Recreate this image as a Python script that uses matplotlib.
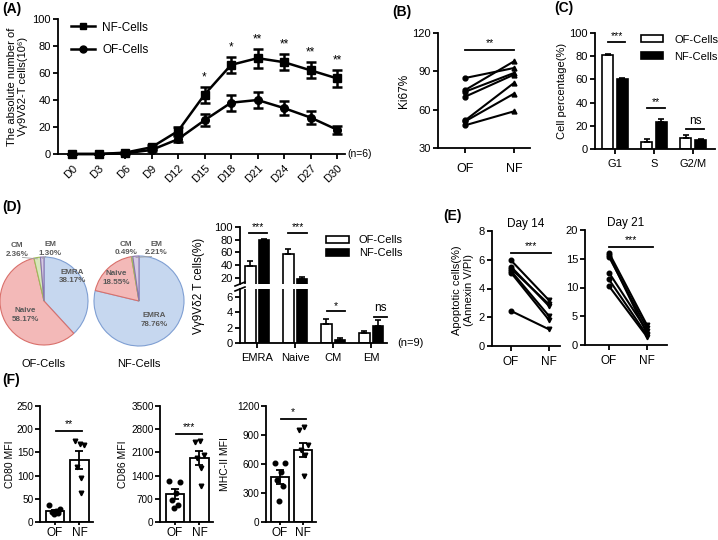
import matplotlib
matplotlib.use('Agg')
import matplotlib.pyplot as plt
import numpy as np
from matplotlib.lines import Line2D
from matplotlib.patches import Patch

plt.rcParams['font.family'] = ['Liberation Sans', 'DejaVu Sans']
plt.rcParams['axes.linewidth'] = 1.3
plt.rcParams['xtick.major.width'] = 1.3
plt.rcParams['ytick.major.width'] = 1.3
plt.rcParams['xtick.major.size'] = 3.5
plt.rcParams['ytick.major.size'] = 3.5
plt.rcParams['xtick.labelsize'] = 8
plt.rcParams['ytick.labelsize'] = 8
plt.rcParams['xtick.major.pad'] = 2
plt.rcParams['ytick.major.pad'] = 1.5

# ---------------- data ----------------
days = ['D0', 'D3', 'D6', 'D9', 'D12', 'D15', 'D18', 'D21', 'D24', 'D27', 'D30']
nf_mean = [0, 0, 1, 5, 17, 44, 66, 71, 68, 62, 56]
nf_err = [0, 0, 0.5, 1.5, 3, 6, 6, 7, 6, 6, 6]
of_mean = [0, 0, 0.5, 3, 11, 25, 38, 40, 34, 27, 18]
of_err = [0, 0, 0.3, 1, 2, 4.5, 6, 6, 5, 5, 3]
a_star_idx = [5, 6, 7, 8, 9, 10]
a_star_lbl = ['*', '*', '**', '**', '**', '**']

ki_of = [84.8, 75.4, 74.1, 70.2, 51.7, 50.9, 47.8]
ki_nf = [92.6, 97.8, 88.7, 87.4, 80.9, 72.5, 58.7]

phases = ['G1', 'S', 'G2/M']
c_of = [81, 6, 9.5]
c_of_err = [1, 3, 2.5]
c_nf = [60, 23.5, 8]
c_nf_err = [0.8, 2, 0.7]
c_sig = ['***', '**', 'ns']
c_sig_y = [92, 35, 17]

subsets = ['EMRA', 'Naive', 'CM', 'EM']
pie_of = [38.17, 58.17, 2.36, 1.30]
pie_nf = [78.76, 18.55, 0.49, 2.21]
pie_face = ['#c6d7ef', '#f3b9b8', '#d8e6bc', '#d5cae4']
pie_edge = ['#7f9fd3', '#d9706b', '#9bbb59', '#8b74ad']

d_of = [38, 58, 2.4, 1.3]
d_of_err = [8, 7, 0.7, 0.2]
d_nf = [79, 18.5, 0.4, 2.2]
d_nf_err = [2.5, 3, 0.2, 0.8]
d_sig = ['***', '***', '*', 'ns']

e14_of = [5.96, 5.52, 5.38, 5.22, 5.10, 2.44]
e14_nf = [3.18, 2.78, 2.90, 2.09, 1.81, 1.16]
e21_of = [16.06, 15.65, 15.36, 12.6, 11.4, 10.26]
e21_nf = [3.5, 2.0, 2.9, 2.5, 1.74, 1.45]

cd80_of = [36, 27, 24, 21, 19, 17]
cd80_nf = [175, 168, 166, 118, 95, 63]
cd80_mean = [23, 134]
cd80_sem = [3, 19]
cd86_of = [1224, 1194, 860, 670, 520, 420]
cd86_nf = [2427, 2457, 2026, 1926, 1625, 1093]
cd86_mean = [840, 1930]
cd86_sem = [150, 220]
mhc_of = [615, 609, 522, 437, 368, 220]
mhc_nf = [952, 980, 798, 746, 695, 478]
mhc_mean = [464, 746]
mhc_sem = [75, 76]

# ---------------- helpers ----------------
W, H = 718, 540
fig = plt.figure(figsize=(W / 100, H / 100), dpi=100)


def axpx(l, t, r, b):
    return fig.add_axes([l / W, 1 - b / H, (r - l) / W, (b - t) / H])


def style(ax):
    ax.spines['top'].set_visible(False)
    ax.spines['right'].set_visible(False)


def ftext(x, y, s, **kw):
    fig.text(x / W, 1 - y / H, s, **kw)


def sigbar(ax, x0, x1, y, s, fs=7.5, dy=0):
    ax.plot([x0, x1], [y, y], color='k', lw=1.3, clip_on=False)
    ax.text((x0 + x1) / 2, y + dy, s, ha='center', va='bottom', fontsize=fs, clip_on=False)


# panel labels
for lbl, (px, py) in {'(A)': (2, 2), '(B)': (392, 5), '(C)': (554, 1), '(D)': (2, 200),
                      '(E)': (443, 209), '(F)': (2, 373)}.items():
    ftext(px, py, lbl, fontsize=10, fontweight='bold', va='top', ha='left')

# ---------------- A ----------------
axA = axpx(58, 19, 345, 154)
style(axA)
xa = np.arange(len(days))
axA.errorbar(xa, nf_mean, yerr=nf_err, color='k', marker='s', ms=5.5, lw=1.8,
             capsize=3.5, elinewidth=1.8, capthick=1.8, clip_on=False, zorder=3)
axA.errorbar(xa, of_mean, yerr=of_err, color='k', marker='o', ms=5.5, lw=1.8,
             capsize=3.5, elinewidth=1.8, capthick=1.8, clip_on=False, zorder=3)
for i, s in zip(a_star_idx, a_star_lbl):
    axA.text(i, nf_mean[i] + nf_err[i] + 2.5, s, ha='center', va='bottom', fontsize=8.5)
axA.set_xlim(-0.53, 10.3)
axA.set_ylim(0, 100)
axA.set_yticks(range(0, 101, 20))
axA.set_xticks(xa)
axA.set_xticklabels(days, rotation=45, ha='right', rotation_mode='anchor')
axA.tick_params(axis='x', pad=3)
axA.set_ylabel('The absolute number of\nVγ9Vδ2-T cells(10⁶)', fontsize=8, labelpad=3)
hA = [Line2D([0], [0], color='k', marker='s', ms=5, lw=1.8),
      Line2D([0], [0], color='k', marker='o', ms=5, lw=1.8)]
axA.legend(hA, ['NF-Cells', 'OF-Cells'], loc='upper left', bbox_to_anchor=(0.01, 1.06),
           frameon=False, fontsize=8.5, handlelength=2.0, labelspacing=0.9, handletextpad=0.6)
axA.text(1.01, 0.0, '(n=6)', transform=axA.transAxes, fontsize=7.5, va='center', ha='left')

# ---------------- B ----------------
axB = axpx(438, 33, 530, 148)
style(axB)
for o, n in zip(ki_of, ki_nf):
    axB.plot([0, 1], [o, n], color='k', lw=1.5)
axB.plot([0] * len(ki_of), ki_of, 'o', color='k', ms=3.5)
axB.plot([1] * len(ki_nf), ki_nf, '^', color='k', ms=3.5)
axB.set_xlim(-0.56, 1.33)
axB.set_ylim(30, 120)
axB.set_yticks([30, 60, 90, 120])
axB.set_xticks([0, 1])
axB.set_xticklabels(['OF', 'NF'], fontsize=9)
axB.tick_params(axis='x', pad=7)
axB.set_ylabel('Ki67%', fontsize=8.5, labelpad=2)
sigbar(axB, 0, 1, 107, '**', dy=1)

# ---------------- C ----------------
axC = axpx(595, 33, 715, 149)
style(axC)
xc = np.arange(len(phases))
off, bw = 0.19, 0.28
axC.bar(xc - off, c_of, bw, color='white', edgecolor='k', lw=1.2,
        yerr=[[0] * 3, c_of_err], capsize=2, error_kw=dict(lw=1.2, capthick=1.2))
axC.bar(xc + off, c_nf, bw, color='k', edgecolor='k', lw=1.2,
        yerr=[[0] * 3, c_nf_err], capsize=2, error_kw=dict(lw=1.2, capthick=1.2))
for i in range(3):
    sigbar(axC, i - 0.17, i + 0.27, c_sig_y[i], c_sig[i], fs=7.5 if c_sig[i] != 'ns' else 8.5,
           dy=1 if c_sig[i] != 'ns' else 2)
axC.set_xlim(-0.51, 2.56)
axC.set_ylim(0, 100)
axC.set_yticks(range(0, 101, 20))
axC.set_xticks(xc)
axC.set_xticklabels(phases, fontsize=8)
axC.tick_params(axis='x', pad=4)
axC.set_ylabel('Cell percentage(%)', fontsize=8, labelpad=2)
hC = [Patch(facecolor='white', edgecolor='k', lw=1.2), Patch(facecolor='k', edgecolor='k', lw=1.2)]
axC.legend(hC, ['OF-Cells', 'NF-Cells'], loc='upper left', bbox_to_anchor=(0.30, 1.07),
           frameon=False, fontsize=8, handlelength=2.0, handleheight=0.6, labelspacing=0.6,
           handletextpad=1.0)

# ---------------- D pies ----------------
pie_specs = [
    (pie_of, (0, 257, 88, 345), 'OF-Cells',
     [(0.64, 0.55), (-0.43, -0.32), (-0.61, 1.16), (0.14, 1.18)]),
    (pie_nf, (94, 256, 184, 346), 'NF-Cells',
     [(0.33, -0.42), (-0.51, 0.51), (-0.29, 1.16), (0.38, 1.16)]),
]
for vals, box, name, lpos in pie_specs:
    axp = axpx(*box)
    wedges, _ = axp.pie(vals, colors=pie_face, startangle=90, counterclock=False,
                        wedgeprops=dict(lw=0.8))
    for w, ec in zip(wedges, pie_edge):
        w.set_edgecolor(ec)
    axp.set_xlim(-1.0, 1.0)
    axp.set_ylim(-1.0, 1.0)
    axp.set_aspect('equal')
    cum = np.cumsum([0] + vals[:-1])
    for k, (lab, v, (tx, ty)) in enumerate(zip(subsets, vals, lpos)):
        axp.text(tx, ty, f'{lab}\n{v:.2f}%', ha='center', va='center', fontsize=5.8,
                 color='#595959', fontweight='bold', linespacing=1.25, clip_on=False)
        if k >= 2:
            ang = np.deg2rad(90 - 3.6 * (cum[k] + v / 2))
            axp.plot([tx + (0.12 if k == 2 else -0.1), 0.97 * np.cos(ang)],
                     [ty - 0.17, 0.97 * np.sin(ang)], color='#a0a0a0', lw=0.6, clip_on=False)
    cx = (box[0] + box[2]) / 2
    ftext(cx, 364, name, ha='center', va='center', fontsize=8)

# ---------------- D bars ----------------
axDu = axpx(240, 227, 387, 284)
axDl = axpx(240, 289, 387, 343)
xd = np.arange(len(subsets))
doff, dbw = 0.18, 0.28
for ax in (axDu, axDl):
    style(ax)
    ax.bar(xd - doff, d_of, dbw, color='white', edgecolor='k', lw=1.2,
           yerr=[[0] * 4, d_of_err], capsize=2, error_kw=dict(lw=1.2, capthick=1.2))
    ax.bar(xd + doff, d_nf, dbw, color='k', edgecolor='k', lw=1.2,
           yerr=[[0] * 4, d_nf_err], capsize=2, error_kw=dict(lw=1.2, capthick=1.2))
    ax.set_xlim(-0.45, 3.42)
axDu.spines['bottom'].set_visible(False)
axDu.set_xticks([])
axDu.set_ylim(10, 100)
axDu.set_yticks([20, 40, 60, 80, 100])
axDl.spines['top'].set_visible(False)
axDl.set_ylim(0, 7)
axDl.set_yticks([0, 2, 4, 6])
axDl.set_xticks(xd)
axDl.set_xticklabels(subsets, fontsize=8)
axDl.tick_params(axis='x', pad=4)
sigbar(axDu, -0.21, 0.26, 91, d_sig[0], dy=1.5)
sigbar(axDu, 0.82, 1.32, 91, d_sig[1], dy=1.5)
sigbar(axDl, 1.84, 2.32, 4.1, d_sig[2], dy=0.1)
sigbar(axDl, 3.08, 3.42, 3.4, d_sig[3], fs=8.5, dy=0.3)
for yb in (284, 289):
    fig.add_artist(Line2D([235 / W, 245 / W], [1 - (yb + 2) / H, 1 - (yb - 2) / H], color='k', lw=1.2))
ftext(199, 286, 'Vγ9Vδ2 T cells(%)', rotation=90, ha='center', va='center', fontsize=8.5)
hD = [Patch(facecolor='white', edgecolor='k', lw=1.2), Patch(facecolor='k', edgecolor='k', lw=1.2)]
axDu.legend(hD, ['OF-Cells', 'NF-Cells'], loc='upper left', bbox_to_anchor=(0.52, 1.03),
            frameon=False, fontsize=8, handlelength=2.0, handleheight=0.6, labelspacing=0.25,
            handletextpad=0.9)
ftext(397, 343, '(n=9)', ha='left', va='center', fontsize=8)

# ---------------- E ----------------
axE1 = axpx(492, 231, 560, 346)
axE2 = axpx(585, 230, 667, 345)
for ax, o_vals, n_vals, lim, step, xl, title, sy, sx1 in (
        (axE1, e14_of, e14_nf, 8, 2, (-0.5, 1.29), 'Day 14', 6.47, 1.05),
        (axE2, e21_of, e21_nf, 20, 5, (-0.63, 1.53), 'Day 21', 17.0, 1.16)):
    style(ax)
    for o, n in zip(o_vals, n_vals):
        ax.plot([0, 1], [o, n], color='k', lw=1.5)
    ax.plot([0] * len(o_vals), o_vals, 'o', color='k', ms=3.3)
    ax.plot([1] * len(n_vals), n_vals, 'v', color='k', ms=3.3)
    ax.set_xlim(*xl)
    ax.set_ylim(0, lim)
    ax.set_yticks(range(0, lim + 1, step))
    ax.set_xticks([0, 1])
    ax.set_xticklabels(['OF', 'NF'], fontsize=8.5)
    ax.tick_params(axis='x', pad=4)
    ax.set_title(title, fontsize=8.5, pad=3)
    sigbar(ax, 0, sx1, sy, '***', dy=lim * 0.015)
ftext(457, 290, 'Apoptotic cells(%)', rotation=90, ha='center', va='center', fontsize=8)
ftext(469, 290, '(Annexin V/PI)', rotation=90, ha='center', va='center', fontsize=8)

# ---------------- F ----------------
jit_of = [-0.22, 0.22, 0.05, -0.12, 0.12, -0.02]
jit_nf = [-0.18, 0.02, 0.2, -0.1, 0.08, 0.05]
f_specs = [
    ((40, 406, 93, 522), cd80_of, cd80_nf, cd80_mean, cd80_sem, 250, 50, 'CD80 MFI', 196, '**', 10),
    ((160, 406, 213, 522), cd86_of, cd86_nf, cd86_mean, cd86_sem, 3500, 700, 'CD86 MFI', 2655, '***', 123),
    ((266, 406, 316, 522), mhc_of, mhc_nf, mhc_mean, mhc_sem, 1200, 300, 'MHC-II MFI', 1065, '*', 225),
]
for box, o_vals, n_vals, mean, sem, top, step, ylab, sy, ss, lx in f_specs:
    ax = axpx(*box)
    style(ax)
    ax.bar([0, 1], mean, 0.75, color='white', edgecolor='k', lw=1.3, zorder=1)
    ax.errorbar([0, 1], mean, yerr=sem, fmt='none', ecolor='k', elinewidth=1.3,
                capsize=3, capthick=1.3, zorder=3)
    ax.plot(np.array(jit_of[:len(o_vals)]), o_vals, 'o', color='k', ms=3.3, zorder=4)
    ax.plot(1 + np.array(jit_nf[:len(n_vals)]), n_vals, 'v', color='k', ms=3.3, zorder=4)
    ax.set_xlim(-0.6, 1.55)
    ax.set_ylim(0, top)
    ax.set_yticks(range(0, top + 1, step))
    ax.set_xticks([0, 1])
    ax.set_xticklabels(['OF', 'NF'], fontsize=8.5)
    ax.tick_params(axis='x', length=2.5, pad=1)
    ax.tick_params(axis='y', labelsize=7.2, pad=1)
    sigbar(ax, 0.05, 1.1, sy, ss, dy=top * 0.02)
    ftext(lx, 464, ylab, rotation=90, ha='center', va='center', fontsize=7.5)

fig.savefig('out.png', dpi=100)
